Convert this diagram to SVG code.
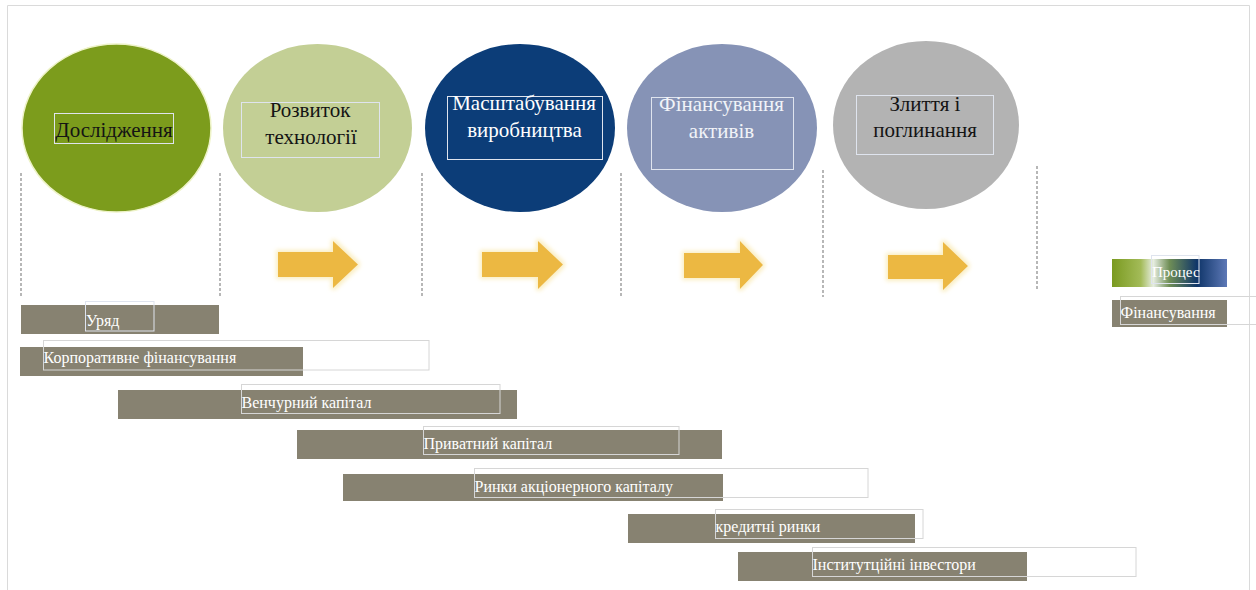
<svg xmlns="http://www.w3.org/2000/svg" width="1256" height="590" viewBox="0 0 1256 590">
  <style>
    text { font-family: "Liberation Serif", "DejaVu Serif", serif; }
    .stage-text { font-size: 21px; text-anchor: middle; }
    .dark { fill: #141414; }
    .light { fill: #ffffff; }
    .bar { fill: #878271; }
    .bar-text { font-size: 16px; fill: #ffffff; }
    .box-dark { fill: none; stroke: #dfe4ee; stroke-width: 1; }
    .box-light { fill: none; stroke: #d6d6d6; stroke-width: 1; }
    .guide { stroke: #a6a6a6; stroke-width: 1.6; stroke-dasharray: 3 2; fill: none; }
    .flow { fill: #ecb843; filter: url(#glow); }
  </style>
  <defs>
    <filter id="glow" x="-30%" y="-40%" width="160%" height="180%">
      <feMorphology in="SourceAlpha" operator="dilate" radius="2" result="d"/>
      <feGaussianBlur in="d" stdDeviation="2" result="b"/>
      <feFlood flood-color="#f8e7a8" flood-opacity="0.7"/>
      <feComposite in2="b" operator="in" result="g"/>
      <feMerge><feMergeNode in="g"/><feMergeNode in="SourceGraphic"/></feMerge>
    </filter>
    <linearGradient id="processGrad" x1="0" y1="0" x2="1" y2="0">
      <stop offset="0" stop-color="#7a9a20"/>
      <stop offset="0.25" stop-color="#a3bb58"/>
      <stop offset="0.36" stop-color="#e6ede0"/>
      <stop offset="0.5" stop-color="#6f8e56"/>
      <stop offset="0.74" stop-color="#0f3569"/>
      <stop offset="1" stop-color="#5d78b6"/>
    </linearGradient>
  </defs>

  <!-- page frame -->
  <rect x="0" y="0" width="1256" height="590" fill="#ffffff"/>
  <path d="M7.5,590 V5.5 H1249.5 V590" fill="none" stroke="#dadada" stroke-width="1"/>

  <!-- stage separators -->
  <g id="guides">
    <line class="guide" x1="21" y1="173" x2="21" y2="297"/>
    <line class="guide" x1="220" y1="173" x2="220" y2="297"/>
    <line class="guide" x1="422" y1="173" x2="422" y2="297"/>
    <line class="guide" x1="621" y1="173" x2="621" y2="297"/>
    <line class="guide" x1="823" y1="170" x2="823" y2="297"/>
    <line class="guide" x1="1037" y1="166" x2="1037" y2="290"/>
  </g>

  <!-- stages -->
  <g id="stage-research">
    <ellipse cx="116.5" cy="128" rx="94.5" ry="84" fill="#7c9c1c" stroke="#eef3c8" stroke-width="1.5"/>
    <rect class="box-dark" x="54.5" y="113.5" width="119" height="30"/>
    <text class="stage-text dark" x="114" y="137">Дослідження</text>
  </g>
  <g id="stage-technology">
    <ellipse cx="317.5" cy="128" rx="94.5" ry="84" fill="#c3cf95"/>
    <rect class="box-dark" x="241.5" y="102.5" width="138" height="55"/>
    <text class="stage-text dark" x="310" y="117">Розвиток</text>
    <text class="stage-text dark" x="311" y="144">технології</text>
  </g>
  <g id="stage-scaling">
    <ellipse cx="520" cy="128" rx="95" ry="84" fill="#0c3d78"/>
    <rect class="box-dark" x="447.5" y="96.5" width="155" height="63"/>
    <text class="stage-text light" x="524" y="110">Масштабування</text>
    <text class="stage-text light" x="524.5" y="137">виробництва</text>
  </g>
  <g id="stage-assets">
    <ellipse cx="722" cy="128" rx="95" ry="84" fill="#8693b6"/>
    <rect class="box-dark" x="651.5" y="97.5" width="142" height="72"/>
    <text class="stage-text" x="721.5" y="111" fill="#f1f3f8">Фінансування</text>
    <text class="stage-text" x="721.5" y="138" fill="#f1f3f8">активів</text>
  </g>
  <g id="stage-mergers">
    <ellipse cx="926" cy="125" rx="93" ry="84" fill="#b3b3b3"/>
    <rect class="box-dark" x="856.5" y="95.5" width="137" height="59"/>
    <text class="stage-text dark" x="925" y="111">Злиття і</text>
    <text class="stage-text dark" x="925" y="137">поглинання</text>
  </g>

  <!-- flow arrows between stages -->
  <g id="connectors">
    <path class="flow" d="M278,252 H333 V241 L358,264.5 L333,288 V277 H278 Z"/>
    <path class="flow" d="M482,252 H538 V241 L563,264.5 L538,289 V277 H482 Z"/>
    <path class="flow" d="M684,253 H740 V241 L763,265 L740,289 V278 H684 Z"/>
    <path class="flow" d="M888,255 H943 V242 L968,266 L943,290 V279 H888 Z"/>
  </g>

  <!-- financing sources -->
  <g id="fin-government">
    <rect class="bar" x="21" y="305" width="198" height="29"/>
    <rect class="box-dark" x="85.5" y="301.5" width="68.5" height="29.5"/>
    <text class="bar-text" x="86" y="325.5">Уряд</text>
  </g>
  <g id="fin-corporate">
    <rect class="bar" x="20" y="347" width="283" height="29"/>
    <rect class="box-light" x="43.5" y="340.5" width="385.5" height="29.5"/>
    <text class="bar-text" x="43.5" y="363">Корпоративне фінансування</text>
  </g>
  <g id="fin-venture">
    <rect class="bar" x="118" y="390" width="399" height="29"/>
    <rect class="box-light" x="241.5" y="384.5" width="258.5" height="29"/>
    <text class="bar-text" x="241.5" y="408">Венчурний капітал</text>
  </g>
  <g id="fin-private">
    <rect class="bar" x="297" y="430" width="425" height="29"/>
    <rect class="box-light" x="423.5" y="426.5" width="255.5" height="28"/>
    <text class="bar-text" x="423.5" y="449">Приватний капітал</text>
  </g>
  <g id="fin-equity">
    <rect class="bar" x="343" y="474" width="380" height="27"/>
    <rect class="box-light" x="474.5" y="468.5" width="393.5" height="29"/>
    <text class="bar-text" x="474.5" y="492">Ринки акціонерного капіталу</text>
  </g>
  <g id="fin-credit">
    <rect class="bar" x="628" y="514" width="287" height="29"/>
    <rect class="box-light" x="715.5" y="509.5" width="207.5" height="29"/>
    <text class="bar-text" x="715.5" y="532">кредитні ринки</text>
  </g>
  <g id="fin-institutional">
    <rect class="bar" x="738" y="552" width="289" height="29"/>
    <rect class="box-light" x="812.5" y="547.5" width="323.5" height="29"/>
    <text class="bar-text" x="812.5" y="570">Інститутційні інвестори</text>
  </g>

  <!-- legend -->
  <g id="legend-process">
    <rect x="1112" y="259" width="115" height="28" fill="url(#processGrad)"/>
    <rect class="box-dark" x="1151.5" y="255.5" width="47.5" height="28"/>
    <text class="bar-text" x="1152" y="277" style="font-size:15px">Процес</text>
  </g>
  <g id="legend-financing">
    <rect class="bar" x="1112" y="300" width="115" height="27"/>
    <rect class="box-light" x="1120.5" y="296.5" width="140" height="28"/>
    <text class="bar-text" x="1120.5" y="318">Фінансування</text>
  </g>
</svg>
